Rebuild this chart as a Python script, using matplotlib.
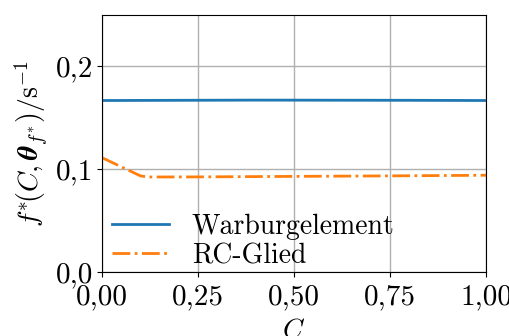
import matplotlib
matplotlib.use('Agg')
import matplotlib.pyplot as plt

plt.rcParams['font.family'] = 'serif'
plt.rcParams['font.serif'] = ['cmr10']
plt.rcParams['mathtext.fontset'] = 'cm'
plt.rcParams['axes.unicode_minus'] = False
plt.rcParams['font.size'] = 20

# data
c_warburg = [0.0, 0.1, 0.2, 0.4, 0.6, 0.8, 1.0]
f_warburg = [0.1668, 0.1669, 0.1670, 0.1672, 0.1671, 0.1670, 0.1668]
c_rc = [0.0, 0.1, 0.12, 0.25, 0.5, 0.75, 1.0]
f_rc = [0.1112, 0.0935, 0.0924, 0.0925, 0.0930, 0.0935, 0.0941]

xticks = [0.0, 0.25, 0.5, 0.75, 1.0]
xlabels = ['0,00', '0,25', '0,50', '0,75', '1,00']
yticks = [0.0, 0.1, 0.2]
ylabels = ['0,0', '0,1', '0,2']

fig = plt.figure(figsize=(5.09, 3.36), dpi=100)
ax = fig.add_axes([0.2004, 0.1905, 0.7544, 0.7649])

ax.plot(c_warburg, f_warburg, color='#1f77b4', lw=2, label='Warburgelement')
ax.plot(c_rc, f_rc, color='#ff7f0e', lw=2, ls='-.', label='RC-Glied')

ax.set_xlim(0, 1)
ax.set_ylim(0, 0.25)
ax.set_xticks(xticks)
ax.set_xticklabels(xlabels, fontsize=21)
ax.set_yticks(yticks)
ax.set_yticklabels(ylabels, fontsize=21)
ax.tick_params(axis='x', pad=5)
ax.tick_params(axis='y', pad=3)
ax.grid(True, color='#b0b0b0', lw=1)
ax.set_axisbelow(True)

ax.set_xlabel(r'$C$', labelpad=5)
ax.set_ylabel(r'$f^{*}\!(C,\boldsymbol{\theta}_{f^{*}})/\mathrm{s}^{-1}$', labelpad=4)

ax.legend(loc='lower left', frameon=False, handlelength=2.05, borderaxespad=0.1,
          borderpad=0.0, labelspacing=0.1, handletextpad=0.8, fontsize=20,
          bbox_to_anchor=(0.02, 0.0))

fig.savefig('out.png', dpi=100)
